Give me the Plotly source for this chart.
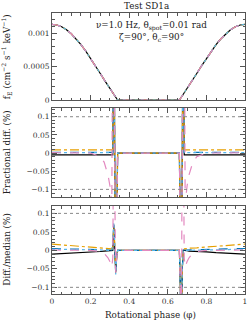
import plotly.graph_objects as go
from plotly.subplots import make_subplots

# ---------------- data ----------------
phase_flux = [0.0, 0.025, 0.05, 0.075, 0.1, 0.125, 0.15, 0.175, 0.2, 0.225, 0.25, 0.275, 0.3, 0.325,
              0.34, 0.4, 0.5, 0.6, 0.66,
              0.675, 0.7, 0.725, 0.75, 0.775, 0.8, 0.825, 0.85, 0.875, 0.9, 0.925, 0.95, 0.975, 1.0]
flux = [1.130e-3, 1.121e-3, 1.094e-3, 1.050e-3, 0.990e-3, 0.915e-3, 0.828e-3, 0.729e-3, 0.623e-3,
        0.511e-3, 0.396e-3, 0.282e-3, 0.169e-3, 0.063e-3,
        0.0, 0.0, 0.0, 0.0, 0.0,
        0.063e-3, 0.169e-3, 0.282e-3, 0.396e-3, 0.511e-3, 0.623e-3, 0.729e-3, 0.828e-3, 0.915e-3,
        0.990e-3, 1.050e-3, 1.094e-3, 1.121e-3, 1.130e-3]

phase_d = [0.0, 0.05, 0.1, 0.15, 0.2, 0.25, 0.27, 0.29, 0.3, 0.31, 0.315,
           0.32, 0.325, 0.33, 0.335, 0.34,
           0.4, 0.5, 0.6,
           0.66, 0.665, 0.67, 0.675, 0.68,
           0.685, 0.69, 0.7, 0.71, 0.73, 0.75, 0.8, 0.85, 0.9, 0.95, 1.0]

frac_black = [-0.005] * 11 + [0.5, 0.0, -0.5, -0.25, 0.0] + [0.0, 0.0, 0.0] + [0.0, -0.25, -0.5, 0.0, 0.5] + [-0.005] * 11
frac_blue = [0.002] * 11 + [0.5, 0.0, -0.5, -0.25, 0.0] + [0.0, 0.0, 0.0] + [0.0, -0.25, -0.5, 0.0, 0.5] + [0.002] * 11
frac_orange = [0.009] * 11 + [0.5, 0.0, -0.5, -0.25, 0.0] + [0.0, 0.0, 0.0] + [0.0, -0.25, -0.5, 0.0, 0.5] + [0.009] * 11
frac_sky = [0.001] * 11 + [0.5, 0.0, -0.5, -0.25, 0.0] + [0.0, 0.0, 0.0] + [0.0, -0.25, -0.5, 0.0, 0.5] + [0.001] * 11
frac_pink = [0.001, 0.001, 0.001, 0.0, 0.0, -0.01, -0.025, -0.06, -0.09, -0.14, 0.5,
             0.5, 0.0, -0.5, -0.25, 0.0,
             0.0, 0.0, 0.0,
             0.0, -0.25, -0.5, 0.0, 0.5,
             0.5, -0.14, -0.09, -0.06, -0.025, -0.01, 0.0, 0.0, 0.001, 0.001, 0.001]

med_black = [-0.010, -0.009, -0.007, -0.006, -0.004, -0.003, -0.002, -0.002, -0.001, -0.001, 0.0,
             0.07, 0.02, -0.06, -0.02, 0.0,
             0.0, 0.0, 0.0,
             0.0, -0.1, -0.3, -0.05, 0.0,
             0.0, -0.001, -0.001, -0.002, -0.002, -0.003, -0.004, -0.006, -0.007, -0.009, -0.010]
med_orange = [0.017, 0.015, 0.013, 0.011, 0.009, 0.007, 0.006, 0.005, 0.005, 0.004, 0.01,
              0.06, 0.02, -0.05, -0.02, 0.0,
              0.0, 0.0, 0.0,
              0.0, -0.1, -0.3, -0.05, 0.004,
              0.004, 0.005, 0.005, 0.006, 0.006, 0.007, 0.009, 0.011, 0.013, 0.015, 0.017]
med_blue = [0.005, 0.004, 0.004, 0.003, 0.002, 0.002, 0.001, 0.001, 0.001, 0.001, 0.01,
            0.065, 0.02, -0.055, -0.02, 0.0,
            0.0, 0.0, 0.0,
            0.0, -0.1, -0.3, -0.05, 0.001,
            0.001, 0.001, 0.001, 0.001, 0.002, 0.002, 0.003, 0.003, 0.004, 0.004, 0.005]
med_sky = [0.003, 0.003, 0.002, 0.002, 0.001, 0.001, 0.001, 0.0, 0.0, 0.0, 0.02,
           0.075, 0.02, -0.065, -0.02, 0.0,
           0.0, 0.0, 0.0,
           0.0, -0.1, -0.3, -0.05, 0.0,
           0.0, 0.0, 0.0, 0.0, 0.001, 0.001, 0.001, 0.002, 0.002, 0.003, 0.003]
med_pink = [0.001, 0.001, 0.001, 0.0, 0.0, -0.003, -0.008, -0.02, -0.03, -0.045, -0.02,
            0.4, 0.1, -0.06, -0.02, 0.0,
            0.0, 0.0, 0.0,
            0.0, -0.1, -0.3, 0.4, 0.4,
            -0.02, -0.045, -0.03, -0.02, -0.008, -0.003, 0.0, 0.0, 0.001, 0.001, 0.001]

x_ticks = [0, 0.2, 0.4, 0.6, 0.8, 1]
x_ticklabels = ["0", "0.2", "0.4", "0.6", "0.8", "1"]
f_ticks = [0, 0.0005, 0.001]
f_ticklabels = ["0", "0.0005", "0.001"]
d_ticks = [-0.1, -0.05, 0, 0.05, 0.1]
d_ticklabels = ["\u22120.1", "\u22120.05", "0", "0.05", "0.1"]

# ---------------- figure ----------------
series = [
    ("black", "solid", frac_black, med_black),
    ("#0072B2", "dash", frac_blue, med_blue),
    ("#E69F00", "dashdot", frac_orange, med_orange),
    ("#56B4E9", "dot", frac_sky, med_sky),
    ("#E389C0", "dash", frac_pink, med_pink),
]

fig = make_subplots(rows=3, cols=1, shared_xaxes=True)
for color, dash, frac, med in series:
    ln = dict(color=color, dash=dash, width=1.2)
    fig.add_trace(go.Scatter(x=phase_flux, y=flux, mode="lines", line=ln, showlegend=False), row=1, col=1)
    fig.add_trace(go.Scatter(x=phase_d, y=frac, mode="lines", line=ln, showlegend=False), row=2, col=1)
    fig.add_trace(go.Scatter(x=phase_d, y=med, mode="lines", line=ln, showlegend=False), row=3, col=1)

for r in (2, 3):
    for yv in (0.1, -0.1):
        fig.add_hline(y=yv, row=r, col=1, line=dict(color="#888", dash="dot", width=1))

FONT = "DejaVu Serif"
axcol = "#555"
common_x = dict(range=[0, 1], showline=True, linecolor=axcol, linewidth=1, mirror="allticks",
                ticks="inside", ticklen=5, tickcolor=axcol, tickvals=x_ticks, ticktext=x_ticklabels,
                minor=dict(ticks="inside", ticklen=2.5, dtick=0.05, tick0=0, tickcolor=axcol),
                showgrid=False, zeroline=False, automargin=False)
common_y = dict(showline=True, linecolor=axcol, linewidth=1, mirror="allticks",
                ticks="inside", ticklen=5, tickcolor=axcol, showgrid=False, zeroline=False, automargin=False)

fig.update_xaxes(**common_x)
fig.update_xaxes(showticklabels=False, row=1, col=1)
fig.update_xaxes(showticklabels=False, row=2, col=1)
fig.update_xaxes(showticklabels=True, row=3, col=1)

fig.update_yaxes(**common_y)
fig.update_yaxes(range=[0, 0.0013], tickvals=f_ticks, ticktext=f_ticklabels,
                 minor=dict(ticks="inside", ticklen=2.5, dtick=0.0001, tick0=0, tickcolor=axcol), row=1, col=1)
fig.update_yaxes(range=[-0.121, 0.124], tickvals=d_ticks, ticktext=d_ticklabels,
                 minor=dict(ticks="inside", ticklen=2.5, dtick=0.01, tick0=0, tickcolor=axcol), row=2, col=1)
fig.update_yaxes(range=[-0.118, 0.12], tickvals=d_ticks, ticktext=d_ticklabels,
                 minor=dict(ticks="inside", ticklen=2.5, dtick=0.01, tick0=0, tickcolor=axcol), row=3, col=1)

H = 281.0
fig.update_layout(
    width=252, height=324, autosize=False,
    margin=dict(l=52, r=7, t=13, b=30, pad=0),
    paper_bgcolor="white", plot_bgcolor="white",
    font=dict(family=FONT, size=7.5, color="#333"),
    yaxis=dict(domain=[(294 - 100) / H, 1.0]),
    yaxis2=dict(domain=[(294 - 197) / H, (294 - 108) / H]),
    yaxis3=dict(domain=[0.0, (294 - 206) / H]),
)

ann_font = dict(family=FONT, size=8.8, color="#222")
ann = [
    dict(text="Test SD1a", x=0.49, y=1.0, xref="paper", yref="paper", xanchor="center", yanchor="bottom",
         font=dict(family=FONT, size=8.8, color="#222")),
    dict(text="\u03bd=1.0 Hz, \u03b8<sub>spot</sub>=0.01 rad", x=0.515, y=1.11e-3, xref="x", yref="y",
         xanchor="center", yanchor="middle", font=ann_font),
    dict(text="\u03b6=90\u00b0, \u03b8<sub>c</sub>=90\u00b0", x=0.515, y=0.93e-3, xref="x", yref="y",
         xanchor="center", yanchor="middle", font=ann_font),
    dict(text="f<sub>E</sub> (cm<sup>\u22122</sup> s<sup>\u22121</sup> keV<sup>\u22121</sup>)",
         x=-0.235, y=(294 - 56.5) / H, xref="paper", yref="paper", textangle=-90,
         xanchor="center", yanchor="middle", font=ann_font),
    dict(text="Fractional diff. (%)", x=-0.235, y=(294 - 152.5) / H, xref="paper", yref="paper", textangle=-90,
         xanchor="center", yanchor="middle", font=ann_font),
    dict(text="Diff./median (%)", x=-0.235, y=(294 - 250) / H, xref="paper", yref="paper", textangle=-90,
         xanchor="center", yanchor="middle", font=ann_font),
    dict(text="Rotational phase (\u03c6)", x=0.51, y=-0.075, xref="paper", yref="paper",
         xanchor="center", yanchor="middle", font=ann_font),
]
for a in ann:
    a["showarrow"] = False
fig.update_layout(annotations=ann)

fig.write_html("out.html", config={"displayModeBar": False},
               post_script="document.body.style.margin='0';document.body.style.padding='0';")
